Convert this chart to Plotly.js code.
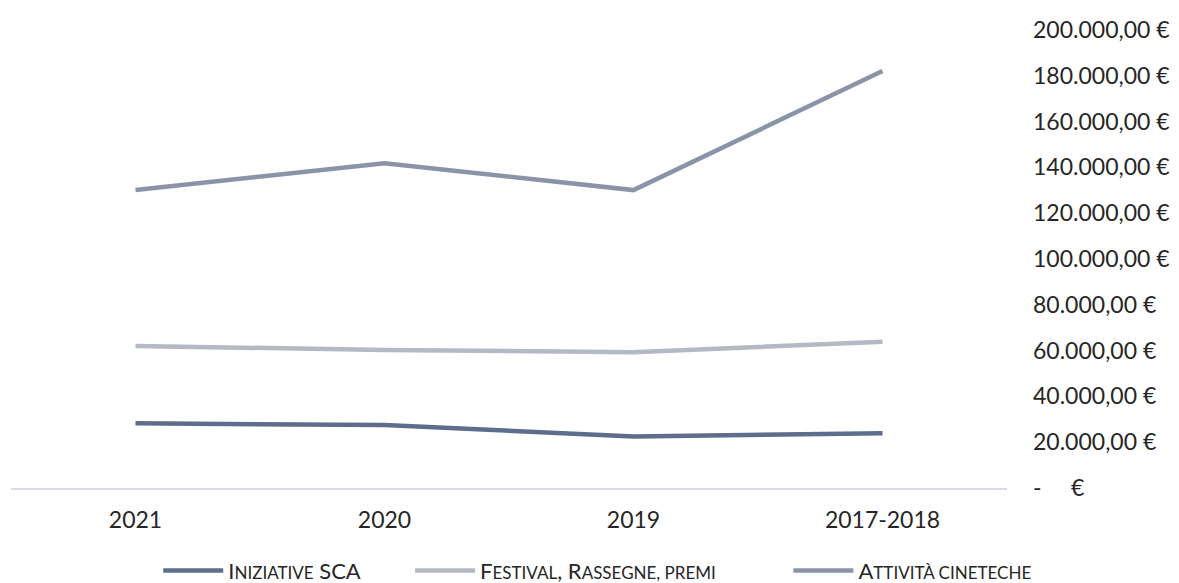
<!DOCTYPE html>
<html>
<head>
<meta charset="utf-8">
<script src="https://cdn.plot.ly/plotly-3.0.1.min.js"></script>
<style>
  html, body { margin: 0; padding: 0; background: #ffffff; }
  #chart { width: 1179px; height: 583px; }
</style>
</head>
<body>
<div id="chart"></div>
<script>
// ---- data ----
const categories = ["2021", "2020", "2019", "2017-2018"];
const iniziativeSCA = [28250, 27500, 22500, 23900];
const festivalRassegnePremi = [62000, 60300, 59300, 63900];
const attivitaCineteche = [130100, 141800, 130100, 182100];

const NB = "\u00a0";
const seriesNames = [
  'I<span style="font-size:17px">NIZIATIVE</span> SCA' + NB.repeat(8),
  'F<span style="font-size:17px">ESTIVAL</span>, R<span style="font-size:17px">ASSEGNE, PREMI</span>' + NB.repeat(12),
  'A<span style="font-size:17px">TTIVITÀ CINETECHE</span>'
];
const seriesColors = ["#5f6d8c", "#b4b9c4", "#8a93a7"];

const yTickValues = [0, 20000, 40000, 60000, 80000, 100000, 120000, 140000, 160000, 180000, 200000];
const yTickLabels = ["-\u00a0\u00a0\u00a0\u00a0\u00a0€", "20.000,00 €", "40.000,00 €", "60.000,00 €", "80.000,00 €",
  "100.000,00 €", "120.000,00 €", "140.000,00 €", "160.000,00 €", "180.000,00 €", "200.000,00 €"];

const seriesValues = [iniziativeSCA, festivalRassegnePremi, attivitaCineteche];

const FONT = "Lato, 'Open Sans', sans-serif";

const traces = seriesValues.map((vals, i) => ({
  type: "scatter",
  mode: "lines",
  x: categories,
  y: vals,
  name: seriesNames[i],
  line: { color: seriesColors[i], width: 4.5 },
  hoverinfo: "x+y"
}));

const layout = {
  width: 1179,
  height: 583,
  margin: { l: 11, r: 172, t: 30, b: 95 },
  paper_bgcolor: "#ffffff",
  plot_bgcolor: "#ffffff",
  font: { family: FONT, size: 22, color: "#262626" },
  showlegend: true,
  xaxis: {
    type: "category",
    range: [-0.5, 3.5],
    showgrid: false,
    zeroline: false,
    showline: true,
    linecolor: "#d9dce4",
    linewidth: 1.5,
    ticks: "",
    tickfont: { family: FONT, size: 23, color: "#262626" },
    ticklabelstandoff: 11,
    fixedrange: true
  },
  yaxis: {
    side: "right",
    range: [0, 200000],
    tickvals: yTickValues,
    ticktext: yTickLabels,
    showgrid: false,
    zeroline: false,
    showline: false,
    ticks: "",
    ticklabelstandoff: 25,
    tickfont: { family: FONT, size: 23, color: "#262626" },
    fixedrange: true
  },
  legend: {
    orientation: "h",
    xref: "container",
    yref: "container",
    x: 0.507,
    xanchor: "center",
    y: 0.021,
    yanchor: "middle",
    font: { family: FONT, size: 22, color: "#262626" },
    itemwidth: 60,
    tracegroupgap: 0,
    bgcolor: "rgba(0,0,0,0)"
  }
};

Plotly.newPlot("chart", traces, layout, { displayModeBar: false, staticPlot: true });
</script>
</body>
</html>
